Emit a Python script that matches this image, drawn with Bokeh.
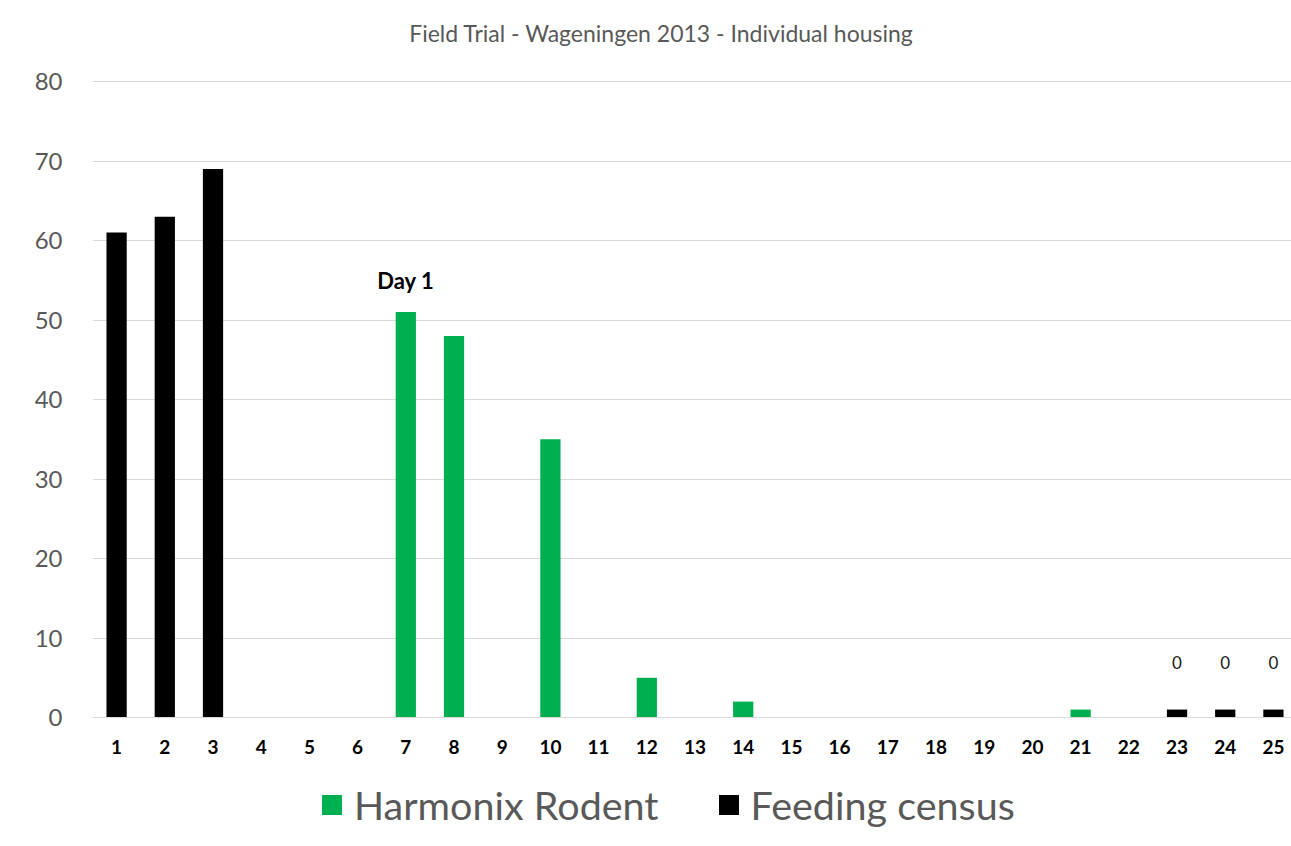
from bokeh.plotting import figure
from bokeh.models import ColumnDataSource, FixedTicker, Legend, LegendItem, Label
from bokeh.core.properties import value
from bokeh.embed import file_html
from bokeh.resources import INLINE

# ---- data ----
title_text = "Field Trial - Wageningen 2013 - Individual housing"
days = [1, 2, 3, 4, 5, 6, 7, 8, 9, 10, 11, 12, 13, 14, 15, 16, 17, 18, 19, 20, 21, 22, 23, 24, 25]
harmonix_days = [7, 8, 10, 12, 14, 21]
harmonix_values = [51, 48, 35, 5, 2, 1]
census_days = [1, 2, 3, 23, 24, 25]
census_values = [61, 63, 69, 1, 1, 1]
zero_label_days = [23, 24, 25]
zero_label_base = [1, 1, 1]
zero_labels = ["0", "0", "0"]
day1_x = [7]
day1_base = [51]
day1_text = ["Day 1"]
y_ticks = [0, 10, 20, 30, 40, 50, 60, 70, 80]
series_names = ["Harmonix Rodent", "Feeding census"]

GREEN = "#00B050"
BLACK = "#000000"
GRAY_TEXT = "#595959"
FONT = "Lato"

# frame spans the whole height; the value axis runs 0..80 inside it
p = figure(frame_width=1199, frame_height=840, output_backend="svg", toolbar_location=None,
           x_range=(0.5, 25.375), y_range=(-15.47, 90.19),
           min_border_left=92, min_border_right=0, min_border_top=0, min_border_bottom=0)
p.outline_line_color = None

p.add_layout(Label(x=12.305, y=86.04, text=title_text, text_align="center",
                   text_baseline="middle", text_font=FONT, text_font_size="23px",
                   text_color=GRAY_TEXT))

src_h = ColumnDataSource(dict(x=harmonix_days, top=harmonix_values))
src_c = ColumnDataSource(dict(x=census_days, top=census_values))
r_h = p.vbar(x="x", top="top", width=0.42, source=src_h, fill_color=GREEN, line_color=None)
r_c = p.vbar(x="x", top="top", width=0.42, source=src_c, fill_color=BLACK, line_color=None)

# data labels
p.text(x=zero_label_days, y=zero_label_base, text=zero_labels, y_offset=-47,
       text_align="center", text_baseline="middle", text_font=value(FONT),
       text_font_size="17px", text_color="#1a1a1a")
p.text(x=day1_x, y=day1_base, text=day1_text, y_offset=-32,
       text_align="center", text_baseline="middle", text_font=value(FONT),
       text_font_size="22px", text_font_style="bold", text_color=BLACK)

# axes
p.xaxis.fixed_location = 0
p.xaxis.ticker = FixedTicker(ticks=days)
p.xaxis.major_tick_line_color = None
p.xaxis.minor_tick_line_color = None
p.xaxis.axis_line_color = "#d9d9d9"
p.xaxis.major_label_standoff = 16
p.xaxis.major_label_text_font = FONT
p.xaxis.major_label_text_font_style = "bold"
p.xaxis.major_label_text_font_size = "19px"
p.xaxis.major_label_text_color = BLACK

p.yaxis.ticker = FixedTicker(ticks=y_ticks)
p.yaxis.major_tick_line_color = None
p.yaxis.minor_tick_line_color = None
p.yaxis.axis_line_color = None
p.yaxis.major_label_standoff = 24
p.yaxis.major_label_text_font = FONT
p.yaxis.major_label_text_font_size = "24px"
p.yaxis.major_label_text_color = GRAY_TEXT

p.xgrid.grid_line_color = None
p.ygrid.grid_line_color = "#d9d9d9"
p.ygrid.ticker = FixedTicker(ticks=y_ticks)

legend = Legend(items=[LegendItem(label=series_names[0], renderers=[r_h]),
                       LegendItem(label=series_names[1], renderers=[r_c])],
                orientation="horizontal", location=(227, 12))
legend.label_text_font = FONT
legend.label_text_font_size = "39.5px"
legend.label_text_color = GRAY_TEXT
legend.glyph_width = 25
legend.glyph_height = 25
legend.label_standoff = 10
legend.spacing = 57
legend.border_line_color = None
legend.background_fill_alpha = 0
legend.margin = 0
legend.padding = 4
p.add_layout(legend, "center")

open("out.html", "w").write(file_html(p, INLINE))
